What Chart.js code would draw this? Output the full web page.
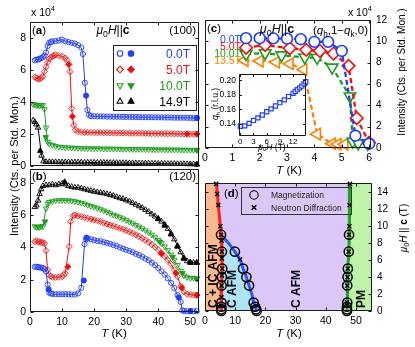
<!DOCTYPE html>
<html>
<head>
<meta charset="utf-8">
<title>Intensity vs T and phase diagram</title>
<script src="https://cdn.jsdelivr.net/npm/chart.js@4.4.1/dist/chart.umd.min.js"></script>
<style>
  html, body { margin: 0; padding: 0; background: #fff; }
  #wrap { position: relative; width: 415px; height: 347px; overflow: hidden; }
  #wrap canvas { position: absolute; left: 0; top: 0; }
</style>
</head>
<body>
<div id="wrap">
  <canvas id="pa" width="415" height="347"></canvas>
  <canvas id="pb" width="415" height="347"></canvas>
  <canvas id="pc" width="415" height="347"></canvas>
  <canvas id="pi" width="415" height="347"></canvas>
  <canvas id="pd" width="415" height="347"></canvas>
</div>
<script>
// ---------- panel (a): (100) intensity, x 10^4 counts ----------
const fieldLabels = ['0.0T', '5.0T', '10.0T', '14.9T'];

const aBlueT = [1.5,2,2.5,3,3.5,4,4.5,5,5.5,6,6.5,7,8,9,10,11,12,13,14,15,16,16.5,17.1,17.9,18.4,19,20,21,22,23,24,25,26,27,28,29,30,31,32,33,34,35,36,37,38,39,40,41,42,43,44,45,46,47,48,49,50,51,52];
const aBlueI = [6.6,6.65,6.65,6.7,6.75,6.8,6.9,7.1,7.5,7.7,7.75,7.8,7.8,7.85,7.9,7.8,7.75,7.7,7.65,7.55,7.4,7.0,5.2,3.5,3.2,3.12,3.11,3.1,3.1,3.1,3.09,3.09,3.08,3.08,3.08,3.07,3.07,3.07,3.06,3.06,3.06,3.05,3.05,3.05,3.05,3.04,3.04,3.04,3.03,3.03,3.03,3.02,3.02,3.02,3.02,3.01,3.01,3.0,3.0];
const aBlueFT = [17.5, 52];
const aBlueFI = [4.4, 3.0];

const aRedT = [1.5,2,2.5,3,3.5,4,4.5,5,5.5,6,6.5,7,7.5,8,9,10,11,11.5,12.5,13,13.6,14.2,15,16,17,18,19,20,21,22,23,24,25,26,27,28,29,30,31,32,33,34,35,36,37,38,39,40,41,42,43,44,45,46,47,48,49,50,51,52];
const aRedI = [5.55,5.5,5.45,5.45,5.5,5.6,5.9,6.2,6.5,6.7,6.8,6.85,6.9,6.95,6.9,6.85,6.75,6.6,5.9,3.6,2.55,2.25,2.15,2.12,2.1,2.1,2.1,2.09,2.09,2.08,2.08,2.08,2.07,2.07,2.07,2.06,2.06,2.06,2.05,2.05,2.05,2.05,2.04,2.04,2.04,2.03,2.03,2.03,2.02,2.02,2.02,2.02,2.01,2.01,2.01,2.0,2.0,2.0,2.0,2.0];
const aRedFT = [12.1, 13.2, 49, 52];
const aRedFI = [6.35, 3.1, 2.0, 2.0];

const aGreenT = [1,1.5,2,2.5,3,3.5,4,4.5,5,5.5,6,7,8,9,10,11,12,13,14,15,16,17,18,19,20,21,22,23,24,25,26,27,28,29,30,31,32,33,34,35,36,37,38,39,40,41,42,43,44,45,46,47,48,49,50,51,52];
const aGreenI = [3.85,3.85,3.8,3.8,3.78,3.8,3.8,3.55,2.4,1.5,1.38,1.3,1.24,1.2,1.18,1.16,1.15,1.14,1.13,1.12,1.11,1.1,1.1,1.1,1.09,1.09,1.09,1.08,1.08,1.08,1.07,1.07,1.07,1.06,1.06,1.06,1.05,1.05,1.05,1.05,1.04,1.04,1.04,1.03,1.03,1.03,1.03,1.02,1.02,1.02,1.02,1.01,1.01,1.01,1.0,1.0,1.0];
const aGreenFT = [4.9, 52];
const aGreenFI = [1.8, 1.0];

const aBlackT = [1,1.5,2,2.5,3.6,4.2,5,6,7,8,9,10,11,12,13,14,15,16,17,18,19,20,21,22,23,24,25,26,27,28,29,30,31,32,33,34,35,36,37,38,39,40,41,42,43,44,45,46,47,48,49,50,51,52];
const aBlackI = [2.85,2.75,2.6,2.4,0.65,0.3,0.26,0.25,0.25,0.25,0.24,0.24,0.24,0.24,0.23,0.23,0.23,0.23,0.22,0.22,0.22,0.22,0.21,0.21,0.21,0.2,0.2,0.2,0.2,0.19,0.19,0.19,0.18,0.18,0.18,0.17,0.17,0.17,0.16,0.16,0.16,0.15,0.15,0.15,0.14,0.14,0.14,0.13,0.13,0.13,0.12,0.12,0.11,0.11];
const aBlackFT = [3.2, 52];
const aBlackFI = [0.95, 0.1];

// ---------- panel (b): (120) intensity ----------
const bBlackT = [1.5,2,2.5,3,3.5,4,5,6,7,8,9,10,11,12,13,14,15,16,17,18,19,20,21,22,23,24,25,26,27,28,29,30,31,32,33,34,35,36,37,38,39,40,41,42,43,44,45,46,47,48,49,50,51,52];
const bBlackI = [6.5,6.6,6.9,7.3,7.6,7.8,7.85,7.85,7.9,7.85,7.9,7.95,7.9,7.8,7.75,7.7,7.7,7.65,7.6,7.55,7.5,7.45,7.42,7.38,7.35,7.3,7.25,7.2,7.12,7.05,7.0,6.92,6.85,6.75,6.65,6.55,6.45,6.32,6.2,6.05,5.92,5.78,5.6,5.4,5.15,4.85,4.5,4.1,3.7,3.35,3.15,3.08,3.05,3.05];
const bBlackFT = [10.8, 40, 42, 44, 46, 48, 50, 52];
const bBlackFI = [8.05, 5.75, 5.35, 4.8, 4.05, 3.3, 3.05, 3.05];

const bGreenT = [1.5,2,2.5,3,3.5,4,5,5.5,6,7,8,9,10,11,12,13,14,15,16,17,18,19,20,21,22,23,24,25,26,27,28,29,30,31,32,33,34,35,36,37,38,39,40,41,42,43,44,45,46,47,48,49,50,51,52];
const bGreenI = [5.3,5.25,5.25,5.25,5.3,5.3,6.4,6.7,6.8,6.85,6.9,6.9,6.92,6.9,6.9,6.88,6.85,6.8,6.75,6.7,6.62,6.56,6.5,6.42,6.35,6.28,6.2,6.1,6.02,5.95,5.86,5.78,5.68,5.58,5.48,5.38,5.28,5.17,5.05,4.92,4.78,4.62,4.45,4.25,4.05,3.82,3.55,3.22,2.9,2.55,2.25,2.15,2.1,2.1,2.08];
const bGreenFT = [4.7, 40.5, 44.5, 47.5, 52];
const bGreenFI = [5.6, 4.35, 3.4, 2.4, 2.05];

const bRedT = [1.5,2,2.5,3,3.5,4,4.5,5,5.5,6,6.5,7,8,9,10,10.5,11,12.2,12.7,13.5,14,15,16,17,18,19,20,21,22,23,24,25,26,27,28,29,30,31,32,33,34,35,36,37,38,39,40,41,42,43,44,45,46,47,48,49,50,51,52];
const bRedI = [4.35,4.4,4.35,4.35,4.3,4.3,4.25,3.8,2.6,2.3,2.2,2.15,2.15,2.15,2.2,2.3,2.4,4.05,5.6,5.95,6.0,5.95,5.9,5.85,5.8,5.75,5.7,5.65,5.6,5.52,5.45,5.38,5.32,5.25,5.18,5.12,5.05,4.96,4.88,4.78,4.68,4.56,4.45,4.32,4.18,4.02,3.85,3.65,3.45,3.22,2.95,2.62,2.2,1.6,1.25,1.1,1.07,1.05,1.05];
const bRedFT = [11.8, 41, 45.5, 47.3, 52];
const bRedFI = [2.8, 3.6, 2.4, 1.5, 1.05];

const bBlueT = [1.5,2,2.5,3,3.5,4,4.5,5,5.5,6,6.5,7,8,9,10,11,12,13,14,15,16,17,17.5,18,19,20,21,22,23,24,25,26,27,28,29,30,31,32,33,34,35,36,37,38,39,40,41,42,43,44,45,46,47,47.5,48,49,50,51,52];
const bBlueI = [2.8,2.8,2.78,2.75,2.75,2.72,2.65,2.5,1.7,1.2,1.15,1.12,1.1,1.1,1.1,1.1,1.1,1.08,1.08,1.15,1.5,4.2,4.5,4.55,4.5,4.45,4.4,4.38,4.32,4.28,4.22,4.15,4.08,4.0,3.92,3.85,3.78,3.7,3.6,3.52,3.42,3.3,3.2,3.05,2.9,2.72,2.52,2.32,2.08,1.8,1.48,1.05,0.62,0.1,0.06,0.05,0.05,0.05,0.05];
const bBlueFT = [5.8, 16.8, 17.6, 46.4, 50];
const bBlueFI = [1.4, 1.95, 4.6, 0.9, 0.05];

// ---------- panel (c): (qh,1-qk,0) intensity at low T ----------
const cLabels = ['0.0T', '5.0T', '10.0T', '13.5T'];
const cT0 = [1.5,2.0,2.5,3.0,3.5,4.0,4.5,5.0,5.5,6.0];
const cI0 = [10.3,10.3,10.28,10.25,10.2,9.95,9.95,9.1,1.15,0.4];
const cT5 = [1.5,2.2,3.1,3.7,4.2,4.7,5.25,5.55,6.0];
const cI5 = [9.4,9.65,9.35,9.2,9.1,8.85,7.7,2.8,0.5];
const cT10 = [1.5,2.2,2.8,3.65,4.1,4.65,5.3,5.4,5.6,5.95];
const cI10 = [8.8,8.9,8.7,8.5,8.45,7.55,4.85,0.6,0.45,0.4];
const cT13 = [1.45,2.0,2.6,3.1,3.6,4.1,4.65,4.85,5.1];
const cI13 = [8.2,8.15,8.05,7.9,7.35,1.3,0.4,0.35,0.35];

// inset: qh vs field
const insetH = [0,1,2,3,4,5,6,7,8,9,10,11,12,12.5,13,13.5,14,14.5,14.9];
const insetQ = [0.1365,0.137,0.1405,0.1445,0.148,0.152,0.1565,0.1605,0.1645,0.169,0.173,0.1775,0.182,0.1845,0.187,0.1895,0.192,0.195,0.198];

// ---------- panel (d): phase diagram ----------
const redT = [3.8,4.4,5.1,5.3,5.6,5.7,5.5,5.4];
const redH = [15.1,12.5,10,9,7,5,3,0];
const blueT = [5.3,7.8,9.9,11.6,12.6,13.7,14.6,15.5,16.1,16.6,17.1];
const blueH = [9,8,7,6.1,5,4,3,2,1,0.5,0];
const greenT = [48.0,47.9,47.8,47.7,47.6,47.3,47.2,47.1,47.0];
const greenH = [15.1,12.5,10,9,7,5,3,1,0];
const magT = [5.4,5.4,5.4,5.45,5.5,5.6,5.7,5.6,5.3, 17.1,16.9,16.6,16.1,14.6,13.7,12.6,9.9, 47.0,47.0,47.0,47.1,47.1,47.2,47.3,47.6,47.7];
const magH = [0,0.2,0.5,1,3,4,5,7,9, 0,0.2,0.5,1,3,4,5,7, 0,0.2,0.5,1,3,4,5,7,9];
const neuT = [3.7,4.0,4.4,5.1,5.3,5.5,5.6,5.6,5.7,5.6,5.5,5.45,5.4, 11.6, 48.0,47.9,47.8,47.7,47.6,47.3,47.2,47.1,47.0];
const neuH = [15,13.8,12.5,10,9,8.3,7,6.2,5,4.2,3,1.6,0.6, 6.1, 15,12.5,10,9,7,5,4,3,1];
const phaseLabels = ['C + IC AFM', 'C AFM', 'C AFM', 'PM'];

// ---------- helpers ----------
const W = 415, H = 347;
const FONT = '"Liberation Sans", Arial, Helvetica, sans-serif';
const BLUE = '#1f3dff', RED = '#f01010', GREEN = '#1c9c1c', BLACK = '#000', ORANGE = '#ff8000';
const P = (xs, ys) => xs.map((x, i) => ({x: x, y: ys[i]}));

function rich(ctx, x, y, parts, size, align, color) {
  const f = st => (st.includes('i') ? 'italic ' : '') + (st.includes('b') ? 'bold ' : '') +
    ((st.includes('s') || st.includes('p')) ? size * 0.72 : size) + 'px ' + FONT;
  let w = 0;
  parts.forEach(([t, st]) => { ctx.font = f(st); w += ctx.measureText(t).width; });
  let cx = align === 'center' ? x - w / 2 : align === 'right' ? x - w : x;
  ctx.save();
  ctx.fillStyle = color || '#000';
  ctx.textAlign = 'left';
  ctx.textBaseline = 'alphabetic';
  parts.forEach(([t, st]) => {
    ctx.font = f(st);
    const dy = st.includes('s') ? size * 0.22 : st.includes('p') ? -size * 0.45 : 0;
    ctx.fillText(t, cx, y + dy);
    cx += ctx.measureText(t).width;
  });
  ctx.restore();
}

function vtext(ctx, x, y, parts, size, align, color) {
  ctx.save();
  ctx.translate(x, y);
  ctx.rotate(-Math.PI / 2);
  rich(ctx, 0, size * 0.35, parts, size, align, color);
  ctx.restore();
}

function mark(ctx, shape, x, y, r, col, filled) {
  ctx.save();
  ctx.beginPath();
  if (shape === 'circle') ctx.arc(x, y, r, 0, Math.PI * 2);
  else if (shape === 'diamond') { ctx.moveTo(x, y - r); ctx.lineTo(x + r, y); ctx.lineTo(x, y + r); ctx.lineTo(x - r, y); ctx.closePath(); }
  else if (shape === 'up') { ctx.moveTo(x, y - r); ctx.lineTo(x + r * 0.866, y + r / 2); ctx.lineTo(x - r * 0.866, y + r / 2); ctx.closePath(); }
  else if (shape === 'down') { ctx.moveTo(x, y + r); ctx.lineTo(x + r * 0.866, y - r / 2); ctx.lineTo(x - r * 0.866, y - r / 2); ctx.closePath(); }
  else if (shape === 'cross') { ctx.moveTo(x - r, y - r); ctx.lineTo(x + r, y + r); ctx.moveTo(x + r, y - r); ctx.lineTo(x - r, y + r); }
  ctx.strokeStyle = col;
  ctx.lineWidth = shape === 'cross' ? 1.4 : 1.1;
  if (filled) { ctx.fillStyle = col; ctx.fill(); }
  ctx.stroke();
  ctx.restore();
}

function frame(chart, len) {
  const ctx = chart.ctx, a = chart.chartArea;
  const L = Math.round(a.left) + 0.5, R = Math.round(a.right) - 0.5;
  const T = Math.round(a.top) + 0.5, B = Math.round(a.bottom) - 0.5;
  ctx.save();
  ctx.strokeStyle = '#1a1a1a';
  ctx.lineWidth = 1;
  ctx.beginPath();
  Object.values(chart.scales).forEach(s => {
    s.ticks.forEach(t => {
      const p = Math.round(s.getPixelForValue(t.value)) + 0.5;
      if (s.axis === 'x') { ctx.moveTo(p, B); ctx.lineTo(p, B - len); ctx.moveTo(p, T); ctx.lineTo(p, T + len); }
      else { ctx.moveTo(L, p); ctx.lineTo(L + len, p); ctx.moveTo(R, p); ctx.lineTo(R - len, p); }
    });
  });
  ctx.rect(L, T, R - L, B - T);
  ctx.stroke();
  ctx.restore();
}

// each axis gets a fixed box so the plot rectangle lands where the layout wants it
function axis(pos, min, max, step, o) {
  o = o || {};
  const box = o.show === false ? 0 : (o.box || (pos === 'bottom' ? 20 : 30));
  return {
    type: 'linear', position: pos, min: min, max: max, _box: box,
    grid: {display: false, drawTicks: false},
    border: {display: false},
    ticks: {
      display: o.show !== false, stepSize: step, includeBounds: false, autoSkip: false, maxRotation: 0,
      padding: o.pad === undefined ? 4 : o.pad, color: '#000', font: {family: FONT, size: o.size || 10.5}
    },
    afterFit(s) { if (s.isHorizontal()) s.height = box; else s.width = box; }
  };
}

function makeChart(id, rect, scales, datasets, o) {
  const pad = {left: rect[0], top: rect[1], right: W - rect[2], bottom: H - rect[3]};
  Object.values(scales).forEach(s => { pad[s.position] -= s._box; });
  return new Chart(document.getElementById(id), {
    type: 'scatter',
    data: {datasets: datasets},
    options: {
      responsive: false, animation: false, events: [],
      layout: {padding: pad},
      scales: scales,
      plugins: {legend: {display: false}, tooltip: {enabled: false}},
      elements: {line: {tension: 0}}
    },
    plugins: [{
      id: 'panel_' + id,
      beforeDatasetsDraw(c) {
        if (!o.bg) return;
        const a = c.chartArea;
        c.ctx.save();
        c.ctx.fillStyle = o.bg;
        c.ctx.fillRect(a.left, a.top, a.right - a.left, a.bottom - a.top);
        c.ctx.restore();
      },
      afterDatasetsDraw(c) {
        if (o.inside) o.inside(c.ctx, c);
        frame(c, o.tick || 3);
      },
      afterDraw(c) { if (o.outside) o.outside(c.ctx, c); }
    }]
  });
}

function openSet(xs, ys, col, shape, r, rot) {
  return {data: P(xs, ys), showLine: true, borderColor: col, borderWidth: 1, pointStyle: shape,
    pointRotation: rot || 0, pointRadius: r, pointBorderColor: col, pointBackgroundColor: 'rgba(0,0,0,0)',
    pointBorderWidth: 0.9, clip: false};
}
function fillSet(xs, ys, col, shape, r, rot) {
  return {data: P(xs, ys), showLine: false, pointStyle: shape, pointRotation: rot || 0, pointRadius: r,
    pointBorderColor: col, pointBackgroundColor: col, pointBorderWidth: 0.9, clip: false};
}

const MU0H = [['μ', 'i'], ['0', 's'], ['H', 'i']];

// ---------- (a) ----------
const legendRows = [
  {shape: 'circle', r: 2.8, color: BLUE},
  {shape: 'diamond', r: 3.3, color: RED},
  {shape: 'down', r: 3.4, color: GREEN},
  {shape: 'up', r: 3.4, color: BLACK}
];

makeChart('pa', [30, 22, 199, 166],
  {x: axis('bottom', 0, 52.7, 10, {show: false}), y: axis('left', 0, 9, 2)},
  [
    fillSet(aBlueFT, aBlueFI, BLUE, 'circle', 2.6),
    openSet(aBlueT, aBlueI, BLUE, 'circle', 2.6),
    fillSet(aRedFT, aRedFI, RED, 'rectRot', 3.1),
    openSet(aRedT, aRedI, RED, 'rectRot', 3.1),
    fillSet(aGreenFT, aGreenFI, GREEN, 'triangle', 3.2, 180),
    openSet(aGreenT, aGreenI, GREEN, 'triangle', 3.2, 180),
    fillSet(aBlackFT, aBlackFI, BLACK, 'triangle', 3.2),
    openSet(aBlackT, aBlackI, BLACK, 'triangle', 3.2)
  ],
  {
    inside(ctx) {
      rich(ctx, 32, 34, [['(', ''], ['a', 'b'], [')', '']], 11.5, 'left');
      rich(ctx, 113, 34, MU0H.concat([['||', ''], ['c', 'b']]), 12, 'center');
      rich(ctx, 196, 34, [['(100)', '']], 11.5, 'right');
      ctx.save();
      ctx.fillStyle = '#fff';
      ctx.fillRect(113.5, 45.5, 83, 65);
      ctx.strokeStyle = '#222';
      ctx.lineWidth = 1;
      ctx.strokeRect(113.5, 45.5, 83, 65);
      ctx.restore();
      legendRows.forEach((row, i) => {
        const y = 53.5 + i * 16;
        mark(ctx, row.shape, 120, y, row.r, row.color, false);
        mark(ctx, row.shape, 131, y, row.r, row.color, true);
        rich(ctx, 190, y + 4.3, [[fieldLabels[i], '']], 12, 'right', row.color);
      });
    },
    outside(ctx) {
      rich(ctx, 31, 16, [['x 10', ''], ['4', 'p']], 10.5, 'left');
    }
  });

// ---------- (b) ----------
makeChart('pb', [30, 169, 199, 312],
  {x: axis('bottom', 0, 52.7, 10), y: axis('left', 0, 8.85, 2)},
  [
    fillSet(bBlueFT, bBlueFI, BLUE, 'circle', 2.6),
    openSet(bBlueT, bBlueI, BLUE, 'circle', 2.6),
    fillSet(bRedFT, bRedFI, RED, 'rectRot', 3.1),
    openSet(bRedT, bRedI, RED, 'rectRot', 3.1),
    fillSet(bGreenFT, bGreenFI, GREEN, 'triangle', 3.2, 180),
    openSet(bGreenT, bGreenI, GREEN, 'triangle', 3.2, 180),
    fillSet(bBlackFT, bBlackFI, BLACK, 'triangle', 3.2),
    openSet(bBlackT, bBlackI, BLACK, 'triangle', 3.2)
  ],
  {
    inside(ctx) {
      rich(ctx, 32, 180, [['(', ''], ['b', 'b'], [')', '']], 11.5, 'left');
      rich(ctx, 196, 180, [['(120)', '']], 11.5, 'right');
    },
    outside(ctx) {
      rich(ctx, 114, 337, [['T', 'i'], [' (K)', '']], 11.5, 'center');
      vtext(ctx, 14, 166, [['Intensity (Cts. per Std. Mon.)', '']], 11, 'center');
    }
  });

// ---------- (c) ----------
function cSet(xs, ys, col, shape, r, rot) {
  return {data: P(xs, ys), showLine: true, borderColor: col, borderWidth: 2.3, borderDash: [5, 3],
    pointStyle: shape, pointRotation: rot || 0, pointRadius: r, pointBorderColor: col,
    pointBackgroundColor: '#fff', pointBorderWidth: 1.6, clip: false};
}
const cColors = [BLUE, RED, GREEN, ORANGE];

makeChart('pc', [205, 20, 371, 148],
  {x: axis('bottom', 0, 6.07, 1), y: axis('right', 0, 12, 2, {size: 10, pad: 5})},
  [
    cSet(cT0, cI0, BLUE, 'circle', 5.4),
    cSet(cT5, cI5, RED, 'rectRot', 6.3),
    cSet(cT10, cI10, GREEN, 'triangle', 6.6, 180),
    cSet(cT13, cI13, ORANGE, 'triangle', 6.6, -90)
  ],
  {
    inside(ctx) {
      rich(ctx, 207, 32, [['(', ''], ['c', 'b'], [')', '']], 11.5, 'left');
      rich(ctx, 277, 33, MU0H.concat([['||', ''], ['c', 'b']]), 12.5, 'center');
      rich(ctx, 368, 34, [['(', ''], ['q', 'i'], ['h', 's'], [',1−', ''], ['q', 'i'], ['k', 's'], [',0)', '']], 11.5, 'right');
      cLabels.forEach((lab, i) => rich(ctx, 241, 42.5 + i * 7, [[lab, '']], 10.5, 'right', cColors[i]));
    },
    outside(ctx) {
      rich(ctx, 372, 16, [['x 10', ''], ['4', 'p']], 10.5, 'right');
      rich(ctx, 289, 174, [['T', 'i'], [' (K)', '']], 11.5, 'center');
      vtext(ctx, 401, 72, [['Intensity (Cts. per Std. Mon.)', '']], 10, 'center');
    }
  });

// ---------- inset ----------
makeChart('pi', [239, 74, 306, 136],
  {x: axis('bottom', -0.3, 14.95, 3, {size: 8, pad: 0.5, box: 10}), y: axis('left', 0.123, 0.2087, 0.02, {size: 8.5, pad: 3, box: 24})},
  [
    {data: P(insetH, insetQ), showLine: true, borderColor: BLUE, borderWidth: 1.3, pointStyle: 'rect',
      pointRadius: 2.9, pointBorderColor: BLUE, pointBackgroundColor: '#fff', pointBorderWidth: 1.2, clip: false}
  ],
  {
    bg: '#fff', tick: 2.5,
    outside(ctx) {
      rich(ctx, 272, 149.5, MU0H.concat([[' (T)', '']]), 8.5, 'center');
      vtext(ctx, 215, 104, [['q', 'i'], ['h', 's'], [' (r.l.u.)', '']], 8.5, 'center');
    }
  });

// ---------- (d) ----------
const dXmax = 55.3, dYmax = 15.1;
const redPts = P(redT, redH);
const bluePts = P(blueT, blueH);
const greenPts = P(greenT, greenH);
const orangePoly = [{x: 0, y: 0}, {x: 0, y: dYmax}].concat(redPts);
const splitAt = redH.indexOf(blueH[0]);
const lightPoly = redPts.slice(splitAt).concat(bluePts.slice().reverse());
const greenPoly = greenPts.concat([{x: dXmax, y: 0}, {x: dXmax, y: dYmax}]);

function polySet(pts, col) {
  return {data: pts, showLine: true, fill: 'shape', backgroundColor: col, borderColor: 'rgba(0,0,0,0)',
    borderWidth: 0, pointRadius: 0, order: 3};
}
function lineSet(pts, col) {
  return {data: pts, showLine: true, borderColor: col, borderWidth: 3, pointRadius: 0, order: 2};
}

makeChart('pd', [205, 183, 372, 311],
  {x: axis('bottom', 0, dXmax, 10), y: axis('right', 0, dYmax, 2, {size: 10, pad: 5})},
  [
    {data: P(neuT, neuH), showLine: false, pointStyle: 'crossRot', pointRadius: 3, pointBorderWidth: 1.3,
      pointBorderColor: '#000', clip: false, order: 0},
    {data: P(magT, magH), showLine: false, pointStyle: 'circle', pointRadius: 4.6, pointBorderWidth: 1.5,
      pointBorderColor: '#000', pointBackgroundColor: 'rgba(0,0,0,0)', clip: false, order: 1},
    lineSet(redPts, '#ff1f1f'),
    lineSet(bluePts, '#2a55ff'),
    lineSet(greenPts, '#22a322'),
    polySet(orangePoly, '#f9bb8e'),
    polySet(lightPoly, '#afe4f8'),
    polySet(greenPoly, '#bff4a8')
  ],
  {
    bg: '#dcc8f8',
    inside(ctx) {
      rich(ctx, 224, 197, [['(', ''], ['d', 'b'], [')', '']], 11.5, 'left');
      ctx.save();
      ctx.strokeStyle = '#333';
      ctx.lineWidth = 1;
      ctx.strokeRect(241.5, 187.5, 110, 27);
      ctx.restore();
      mark(ctx, 'circle', 254, 195, 4.2, '#000', false);
      mark(ctx, 'cross', 254, 207.5, 2.3, '#000', false);
      rich(ctx, 271, 198, [['Magnetization', '']], 8.5, 'left', '#222');
      rich(ctx, 271, 210.5, [['Neutron Diffraction', '']], 8.5, 'left', '#222');
      vtext(ctx, 213, 308, [[phaseLabels[0], 'b']], 12, 'left');
      vtext(ctx, 232, 308, [[phaseLabels[1], 'b']], 12, 'left');
      vtext(ctx, 296, 308, [[phaseLabels[2], 'b']], 12, 'left');
      vtext(ctx, 361, 308, [[phaseLabels[3], 'b']], 12, 'left');
    },
    outside(ctx) {
      rich(ctx, 289, 337, [['T', 'i'], [' (K)', '']], 11.5, 'center');
      vtext(ctx, 403, 228, MU0H.concat([[' || ', ''], ['c', 'b'], [' (T)', '']]), 10, 'center');
    }
  });
</script>
</body>
</html>
